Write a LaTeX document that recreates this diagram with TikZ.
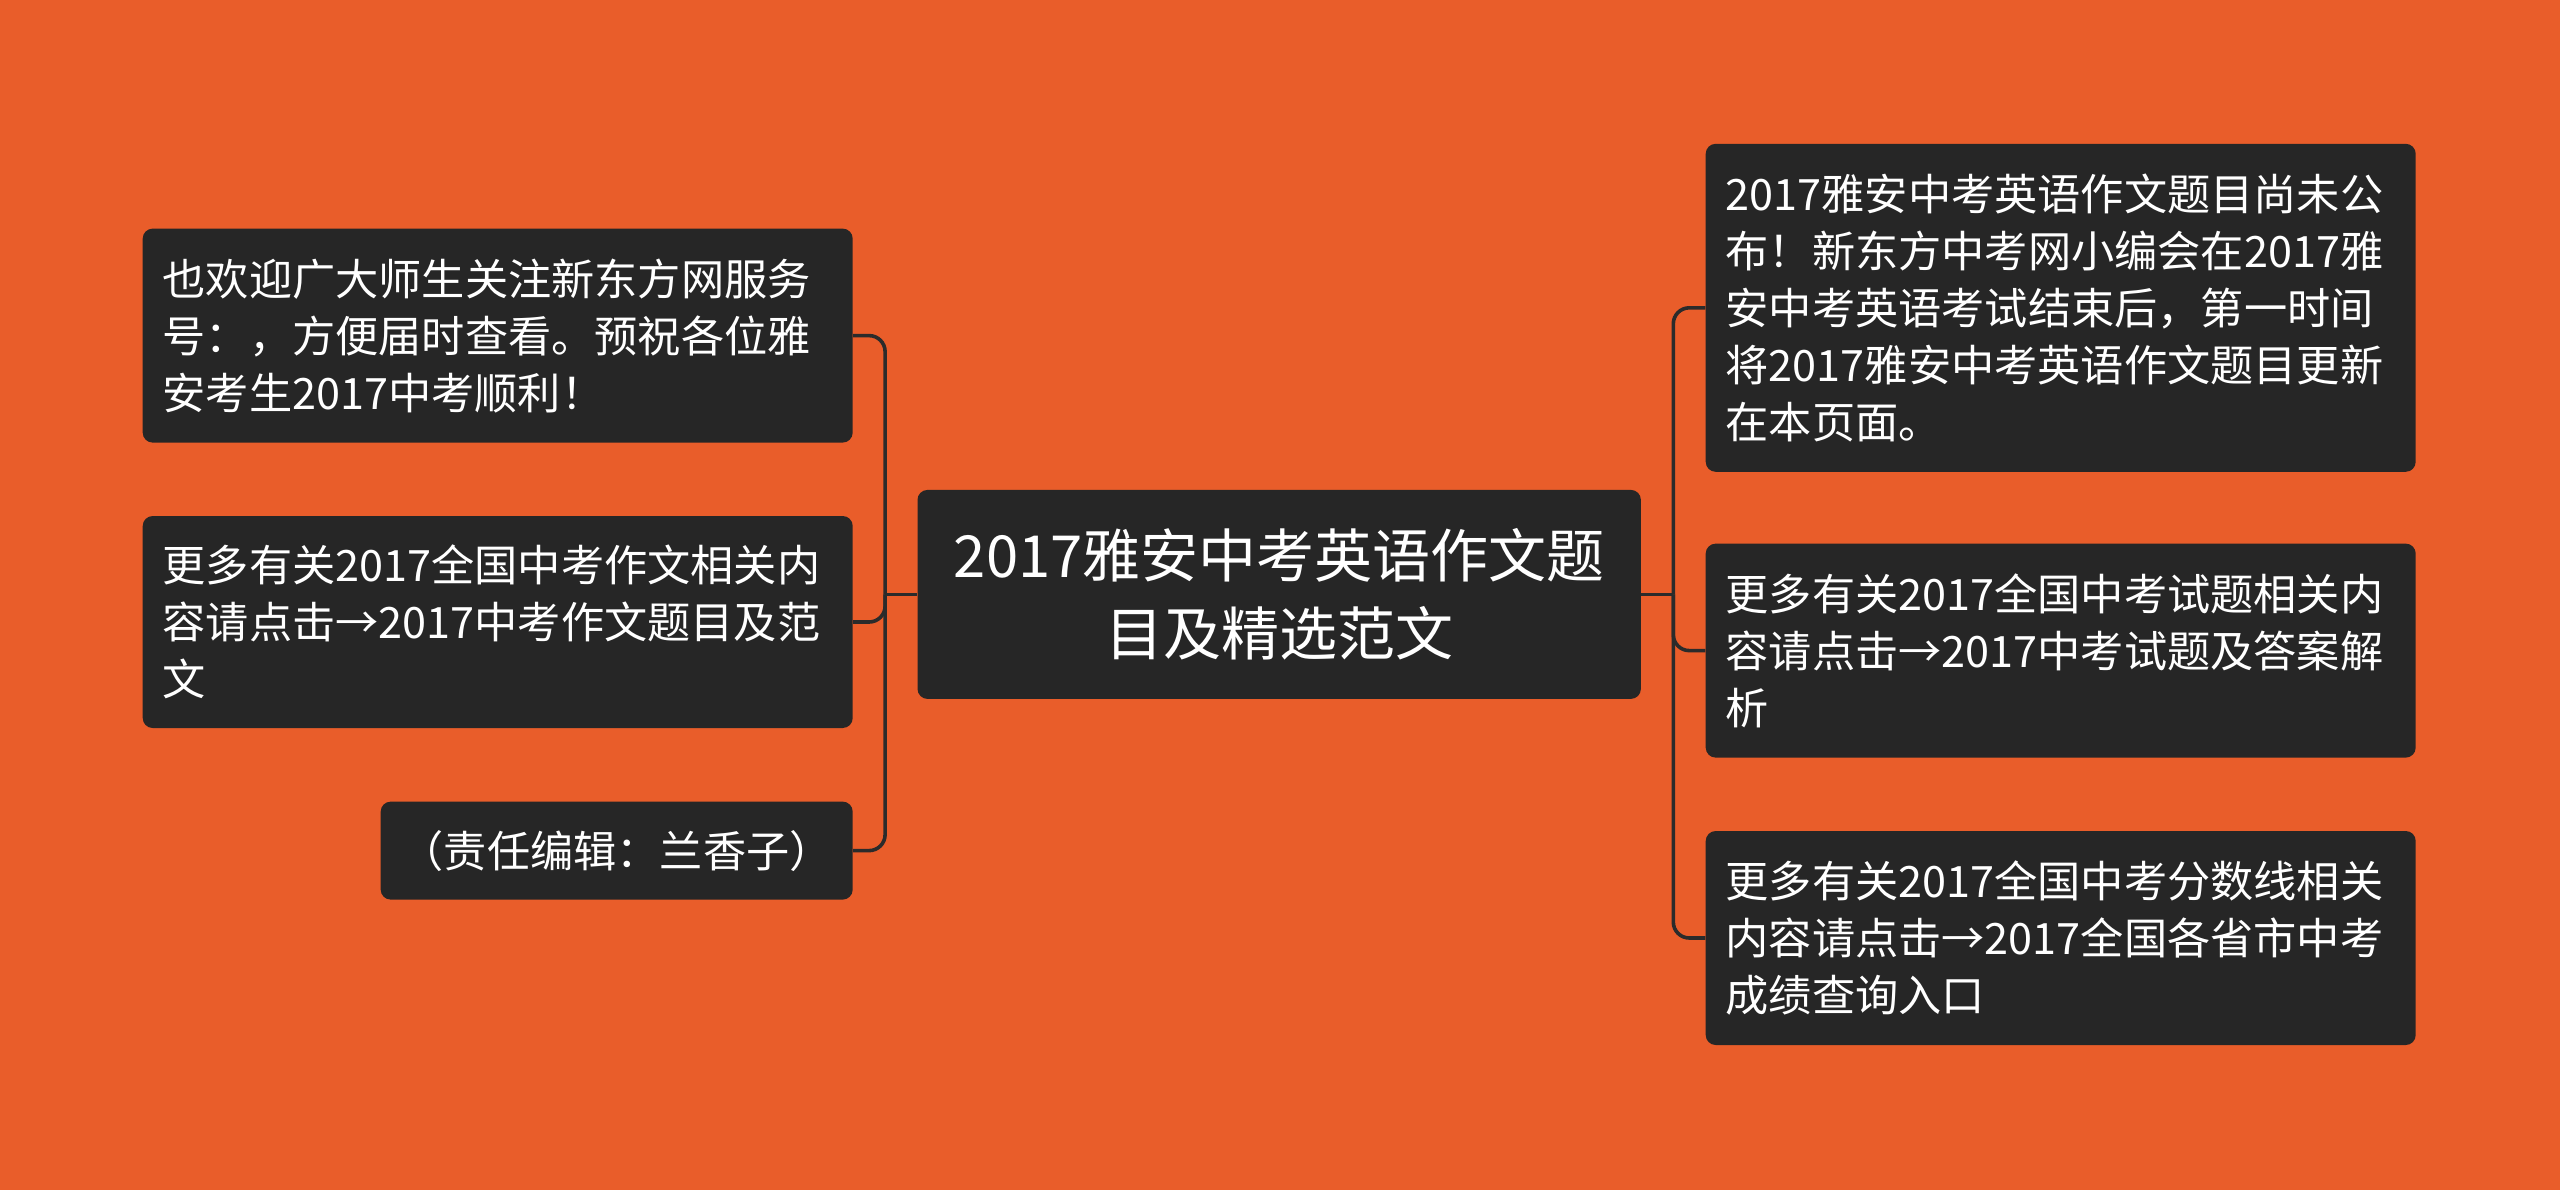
\documentclass[tikz,border=0pt]{standalone}
\usepackage{fontspec}
\setmainfont{Noto Sans CJK SC}
\usepackage{xcolor}
\usetikzlibrary{positioning}
\definecolor{bgorange}{HTML}{E95D2A}
\definecolor{boxdark}{HTML}{262626}
\definecolor{linkdark}{HTML}{2B2B2B}
\newcommand{\leaffont}{\fontsize{21.6pt}{28.5pt}\selectfont}
\newcommand{\rootfont}{\fontsize{29pt}{39pt}\selectfont}

\begin{document}
\begin{tikzpicture}[
node distance=32pt,
root/.style={fill=boxdark, rounded corners=5pt, text=white, font=\rootfont, align=center, minimum width=361.7pt, minimum height=104.5pt},
leaf/.style={fill=boxdark, rounded corners=5pt, text=white, font=\leaffont, align=left, text width=335pt, inner xsep=10pt, inner ysep=8pt},
link/.style={draw=linkdark, line width=1.8pt, rounded corners=8pt}
]
\useasboundingbox (0,0) rectangle (1280pt,-594.5pt);
\fill[bgorange] (-3pt,3pt) rectangle (1283pt,-598pt);

\node[root] (root) at (639.6pt,-297.2pt) {2017雅安中考英语作文题\\目及精选范文};

% left side
\node[leaf, minimum height=107pt, left=of root, yshift=129.4pt] (l1) {也欢迎广大师生关注新东方网服务\\号：，方便届时查看。预祝各位雅\\安考生2017中考顺利！};
\node[leaf, minimum height=106pt, left=of root, yshift=-13.8pt] (l2) {更多有关2017全国中考作文相关内\\容请点击→2017中考作文题目及范\\文};
\node[leaf, text width=216pt, align=center, minimum height=49pt, left=of root, yshift=-128.1pt] (l3) {（责任编辑：兰香子）};

% right side
\node[leaf, minimum height=164pt, right=of root, yshift=143.3pt] (r1) {2017雅安中考英语作文题目尚未公\\布！新东方中考网小编会在2017雅\\安中考英语考试结束后，第一时间\\将2017雅安中考英语作文题目更新\\在本页面。};
\node[leaf, minimum height=107pt, right=of root, yshift=-28.1pt] (r2) {更多有关2017全国中考试题相关内\\容请点击→2017中考试题及答案解\\析};
\node[leaf, minimum height=107pt, right=of root, yshift=-171.8pt] (r3) {更多有关2017全国中考分数线相关\\内容请点击→2017全国各省市中考\\成绩查询入口};

\coordinate (trunkL) at ([xshift=-16pt]root.west);
\coordinate (trunkR) at ([xshift=16pt]root.east);

\draw[link] (root.west) -- (trunkL);
\draw[link] (trunkL) |- (l1.east);
\draw[link] (trunkL) |- (l2.east);
\draw[link] (trunkL) |- (l3.east);

\draw[link] (root.east) -- (trunkR);
\draw[link] (trunkR) |- (r1.west);
\draw[link] (trunkR) |- (r2.west);
\draw[link] (trunkR) |- (r3.west);
\end{tikzpicture}
\end{document}
